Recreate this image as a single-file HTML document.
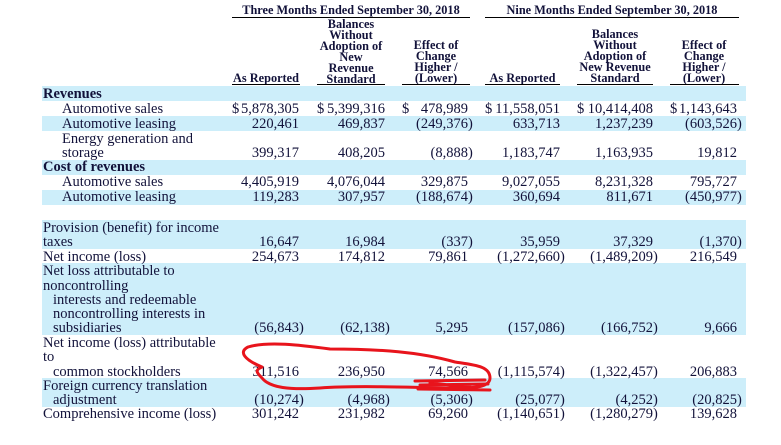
<!DOCTYPE html>
<html><head><meta charset="utf-8"><style>
body{margin:0;width:781px;height:445px;background:#fff;position:relative;overflow:hidden;font-family:"Liberation Serif",serif;color:#12123a}
.b{position:absolute;left:42px;width:704px;background:#cdeefa}
.t{position:absolute;font-size:14.5px;line-height:14.5px;white-space:nowrap}
.h{position:absolute;font-size:12.3px;font-weight:bold;line-height:11px;text-align:center;white-space:nowrap}
.u{position:absolute;height:0;border-top:1.5px solid #000}
.n{position:absolute;font-size:14.5px;line-height:14.5px;white-space:nowrap;text-align:right}
.d{position:absolute;font-size:14.5px;line-height:14.5px}
</style></head><body>
<div class="b" style="top:86px;height:15px"></div>
<div class="b" style="top:116px;height:15px"></div>
<div class="b" style="top:160px;height:15px"></div>
<div class="b" style="top:190px;height:15px"></div>
<div class="b" style="top:220px;height:29px"></div>
<div class="b" style="top:263px;height:72px"></div>
<div class="b" style="top:378px;height:29px"></div>

<div class="h" style="left:232px;width:238px;top:5px">Three Months Ended September 30, 2018</div>
<div class="u" style="left:232px;width:238px;top:17px"></div>
<div class="h" style="left:485px;width:254px;top:5px">Nine Months Ended September 30, 2018</div>
<div class="u" style="left:485px;width:254px;top:17px"></div>

<div class="h" style="left:232px;width:68px;top:73px">As Reported</div>
<div class="h" style="left:312px;width:78px;top:19px">Balances<br>Without<br>Adoption of<br>New<br>Revenue<br>Standard</div>
<div class="h" style="left:400px;width:72px;top:40px">Effect of<br>Change<br>Higher /<br>(Lower)</div>
<div class="h" style="left:485px;width:75px;top:73px">As Reported</div>
<div class="h" style="left:570px;width:90px;top:29px">Balances<br>Without<br>Adoption of<br>New Revenue<br>Standard</div>
<div class="h" style="left:668px;width:72px;top:40px">Effect of<br>Change<br>Higher /<br>(Lower)</div>
<div class="u" style="left:232px;width:68px;top:84px"></div>
<div class="u" style="left:317px;width:68px;top:84px"></div>
<div class="u" style="left:402px;width:68px;top:84px"></div>
<div class="u" style="left:485px;width:75px;top:84px"></div>
<div class="u" style="left:577px;width:76px;top:84px"></div>
<div class="u" style="left:670px;width:69px;top:84px"></div>

<div id="c"></div>
<svg width="781" height="445" style="position:absolute;left:0;top:0" fill="none" stroke="#e8141c" stroke-width="3" stroke-linecap="round">
<path d="M262,367 C245,360 238,352 248,347 C268,341 300,345 330,349 C380,349 420,352 455,362 C475,365 490,366 490,378 C490,386 478,388 460,388 C420,388 360,385 320,388 C290,390 270,388 262,378 C256,372 255,370 262,367"/>
<path d="M415,381 L485,380 M420,385 L488,384 M418,389 L490,390 M430,383 L470,387"/>
</svg>
<script>
var rows=[
[94,"Revenues",0,1],
[109,"Automotive sales",1,0,["$ 5,878,305","$ 5,399,316","$ 478,989","$ 11,558,051","$ 10,414,408","$ 1,143,643"]],
[124,"Automotive leasing",1,0,["220,461","469,837","(249,376)","633,713","1,237,239","(603,526)"]],
[139,"Energy generation and",1,0],
[153,"storage",1,0,["399,317","408,205","(8,888)","1,183,747","1,163,935","19,812"]],
[167,"Cost of revenues",0,1],
[182,"Automotive sales",1,0,["4,405,919","4,076,044","329,875","9,027,055","8,231,328","795,727"]],
[197,"Automotive leasing",1,0,["119,283","307,957","(188,674)","360,694","811,671","(450,977)"]],
[228,"Provision (benefit) for income",0,0],
[242,"taxes",0,0,["16,647","16,984","(337)","35,959","37,329","(1,370)"]],
[257,"Net income (loss)",0,0,["254,673","174,812","79,861","(1,272,660)","(1,489,209)","216,549"]],
[271,"Net loss attributable to",0,0],
[286,"noncontrolling",0,0],
[300,"interests and redeemable",2,0],
[314,"noncontrolling interests in",2,0],
[328,"subsidiaries",2,0,["(56,843)","(62,138)","5,295","(157,086)","(166,752)","9,666"]],
[343,"Net income (loss) attributable",0,0],
[357,"to",0,0],
[372,"common stockholders",2,0,["311,516","236,950","74,566","(1,115,574)","(1,322,457)","206,883"]],
[386,"Foreign currency translation",0,0],
[400,"adjustment",2,0,["(10,274)","(4,968)","(5,306)","(25,077)","(4,252)","(20,825)"]],
[414,"Comprehensive income (loss)",0,0,["301,242","231,982","69,260","(1,140,651)","(1,280,279)","139,628"]]];
var R=[299,385,468,560,653,737],L=[232,317,402,485,577,670],h="";
rows.forEach(function(r){var top=r[0]-7.5;
var x=r[2]==1?62:(r[2]==2?53:43);
h+='<div class="t" style="left:'+x+'px;top:'+top+'px;'+(r[3]?'font-weight:bold':'')+'">'+r[1]+'</div>';
if(r[4])r[4].forEach(function(v,i){var s=v;
if(s.charAt(0)=="$"){h+='<div class="d" style="left:'+L[i]+'px;top:'+top+'px">$</div>';s=s.slice(2);}
var p=s.slice(-1)==")";
h+='<div class="n" style="right:'+(781-R[i])+'px;top:'+top+'px">'+(p?s.slice(0,-1)+'<span style="position:absolute;left:100%">)</span>':s)+'</div>';});});
document.getElementById("c").innerHTML=h;
</script>
</body></html>
